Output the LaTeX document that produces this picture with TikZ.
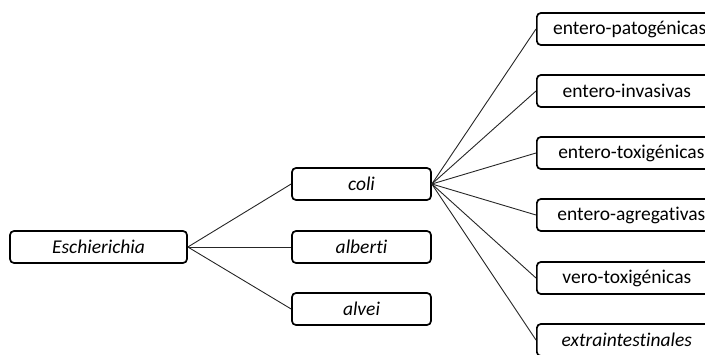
\documentclass[tikz,border=0pt]{standalone}
\usepackage{fontspec}
\setmainfont{Carlito}[Ligatures=NoCommon]
\begin{document}
\begin{tikzpicture}[x=1pt,y=-1pt,
  box/.style={draw=black, line width=1.7pt, rounded corners=4pt,
    minimum height=32pt, inner sep=0pt, font=\fontsize{19.5}{23}\selectfont},
  genus/.style={box, minimum width=177pt},
  species/.style={box, minimum width=139pt},
  pathotype/.style={box, minimum width=180pt, anchor=west},
  link/.style={draw=black!85, line width=0.9pt}]
\useasboundingbox (0,0) rectangle (705,354);
\begin{scope}
\clip (0,0) rectangle (705,354);
% genus
\node[genus] (esch) at (98.5,247) {\itshape Eschierichia};
% species
\node[species] (coli) at (361.5,184) {\itshape coli};
\node[species] (alberti) at (361.5,247) {\itshape alberti};
\node[species] (alvei) at (361.5,309) {\itshape alvei};
% pathotypes of E. coli
\node[pathotype] (epec) at (536,29) {\hspace{5.5pt}entero-patogénicas\hfill};
\node[pathotype] (eiec) at (536,91) {entero-invasivas};
\node[pathotype] (etec) at (536,153) {\hspace{9pt}entero-toxigénicas\hfill};
\node[pathotype] (eaec) at (536,215) {\hspace{9pt}entero-agregativas\hfill};
\node[pathotype] (vtec) at (536,278) {vero-toxigénicas};
\node[pathotype] (expec) at (536,340) {\itshape extraintestinales};
% connectors
\foreach \s in {coli,alberti,alvei}
  \draw[link] (esch.east) -- (\s.west);
\foreach \p in {epec,eiec,etec,eaec,vtec,expec}
  \draw[link] (coli.east) -- (\p.west);
\end{scope}
\end{tikzpicture}
\end{document}
